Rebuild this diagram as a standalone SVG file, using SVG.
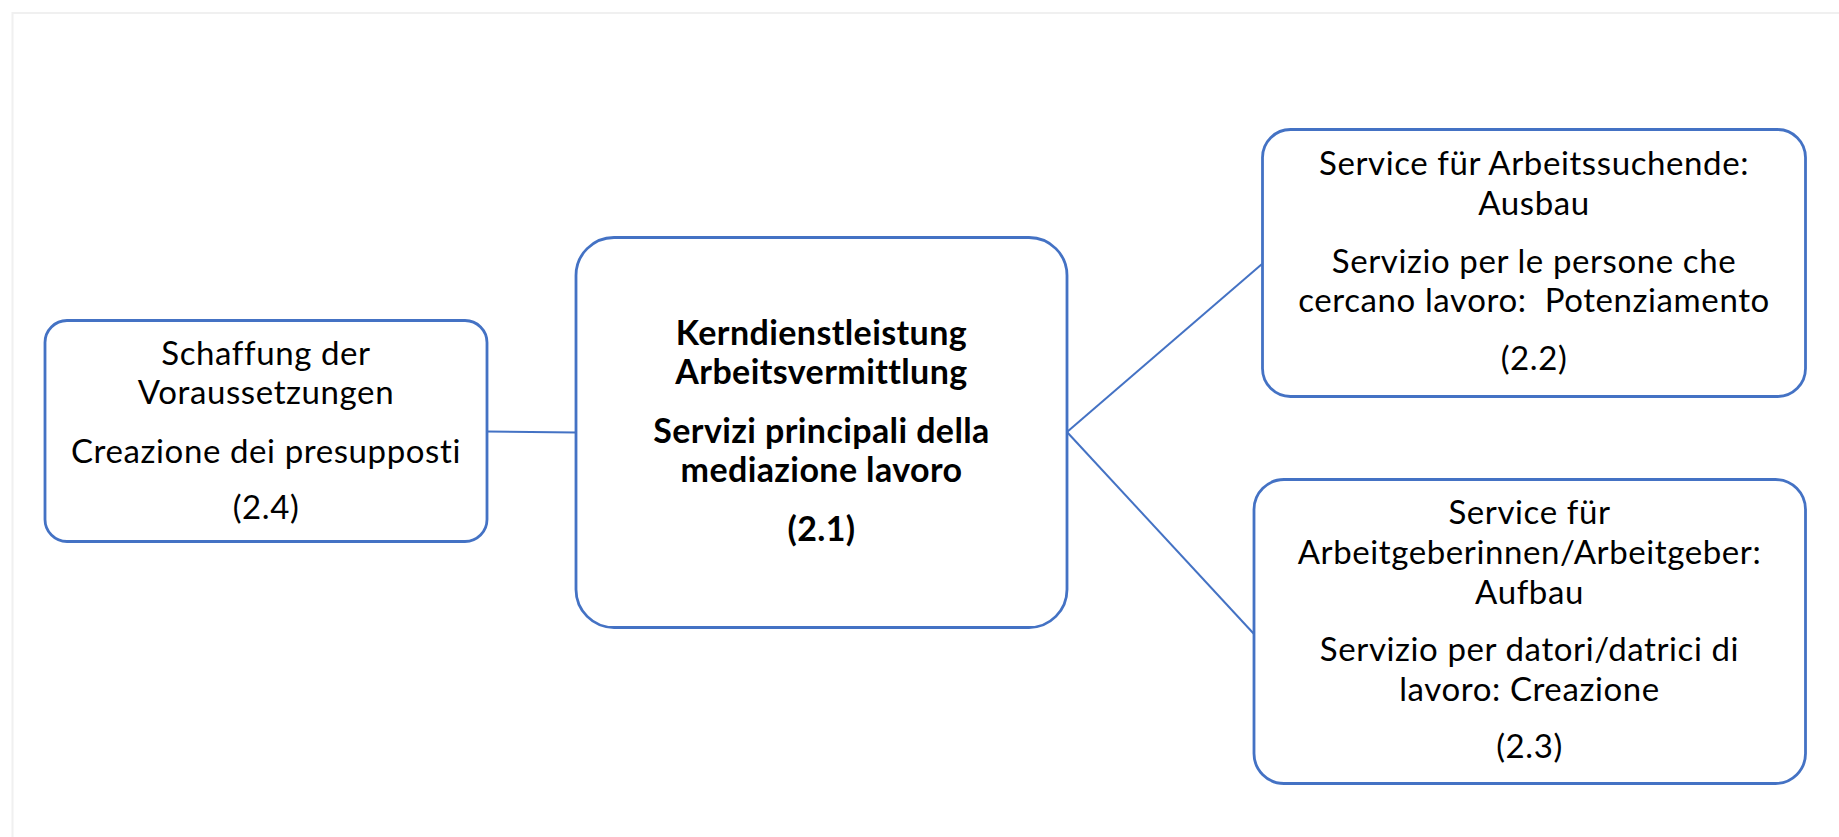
<svg xmlns="http://www.w3.org/2000/svg" width="1839" height="837" viewBox="0 0 1839 837">
<style>
.box{fill:#fff;stroke:#4472C4;stroke-width:2.8}
.t{font-family:Lato,"Liberation Sans",sans-serif;font-size:33px;letter-spacing:0.6px;fill:#000;text-anchor:middle}
.b{font-weight:bold;font-size:34px;letter-spacing:0.4px}
.con{stroke:#4472C4;stroke-width:2;fill:none}
</style>
<rect x="0" y="0" width="1839" height="837" fill="#fff"/>
<path d="M12.5,837 V13 H1839" fill="none" stroke="#f0f0f0" stroke-width="2"/>
<g id="connectors">
<line class="con" x1="487" y1="431.5" x2="576" y2="432.5"/>
<line class="con" x1="1067" y1="432" x2="1262" y2="264"/>
<line class="con" x1="1067" y1="432" x2="1254" y2="634"/>
</g>
<g id="n24">
<rect class="box" x="45" y="320.5" width="442" height="221" rx="22"/>
<text class="t" x="266" y="365">Schaffung der</text>
<text class="t" x="266" y="404">Voraussetzungen</text>
<text class="t" x="266" y="463">Creazione dei presupposti</text>
<text class="t" x="266" y="519">(2.4)</text>
</g>
<g id="n21">
<rect class="box" x="576" y="237.5" width="491" height="390" rx="38"/>
<text class="t b" x="821.5" y="345">Kerndienstleistung</text>
<text class="t b" x="821.5" y="384">Arbeitsvermittlung</text>
<text class="t b" x="821.5" y="443">Servizi principali della</text>
<text class="t b" x="821.5" y="482">mediazione lavoro</text>
<text class="t b" x="821.5" y="541">(2.1)</text>
</g>
<g id="n22">
<rect class="box" x="1262.5" y="129.5" width="543" height="267" rx="28"/>
<text class="t" x="1534" y="175">Service für Arbeitssuchende:</text>
<text class="t" x="1534" y="215">Ausbau</text>
<text class="t" x="1534" y="273">Servizio per le persone che</text>
<text class="t" x="1534" y="312" style="white-space:pre">cercano lavoro:  Potenziamento</text>
<text class="t" x="1534" y="370">(2.2)</text>
</g>
<g id="n23">
<rect class="box" x="1254" y="479.5" width="551.5" height="304" rx="30"/>
<text class="t" x="1529.5" y="524">Service für</text>
<text class="t" x="1529.5" y="564">Arbeitgeberinnen/Arbeitgeber:</text>
<text class="t" x="1529.5" y="604">Aufbau</text>
<text class="t" x="1529.5" y="661">Servizio per datori/datrici di</text>
<text class="t" x="1529.5" y="701">lavoro: Creazione</text>
<text class="t" x="1529.5" y="758">(2.3)</text>
</g>
</svg>
